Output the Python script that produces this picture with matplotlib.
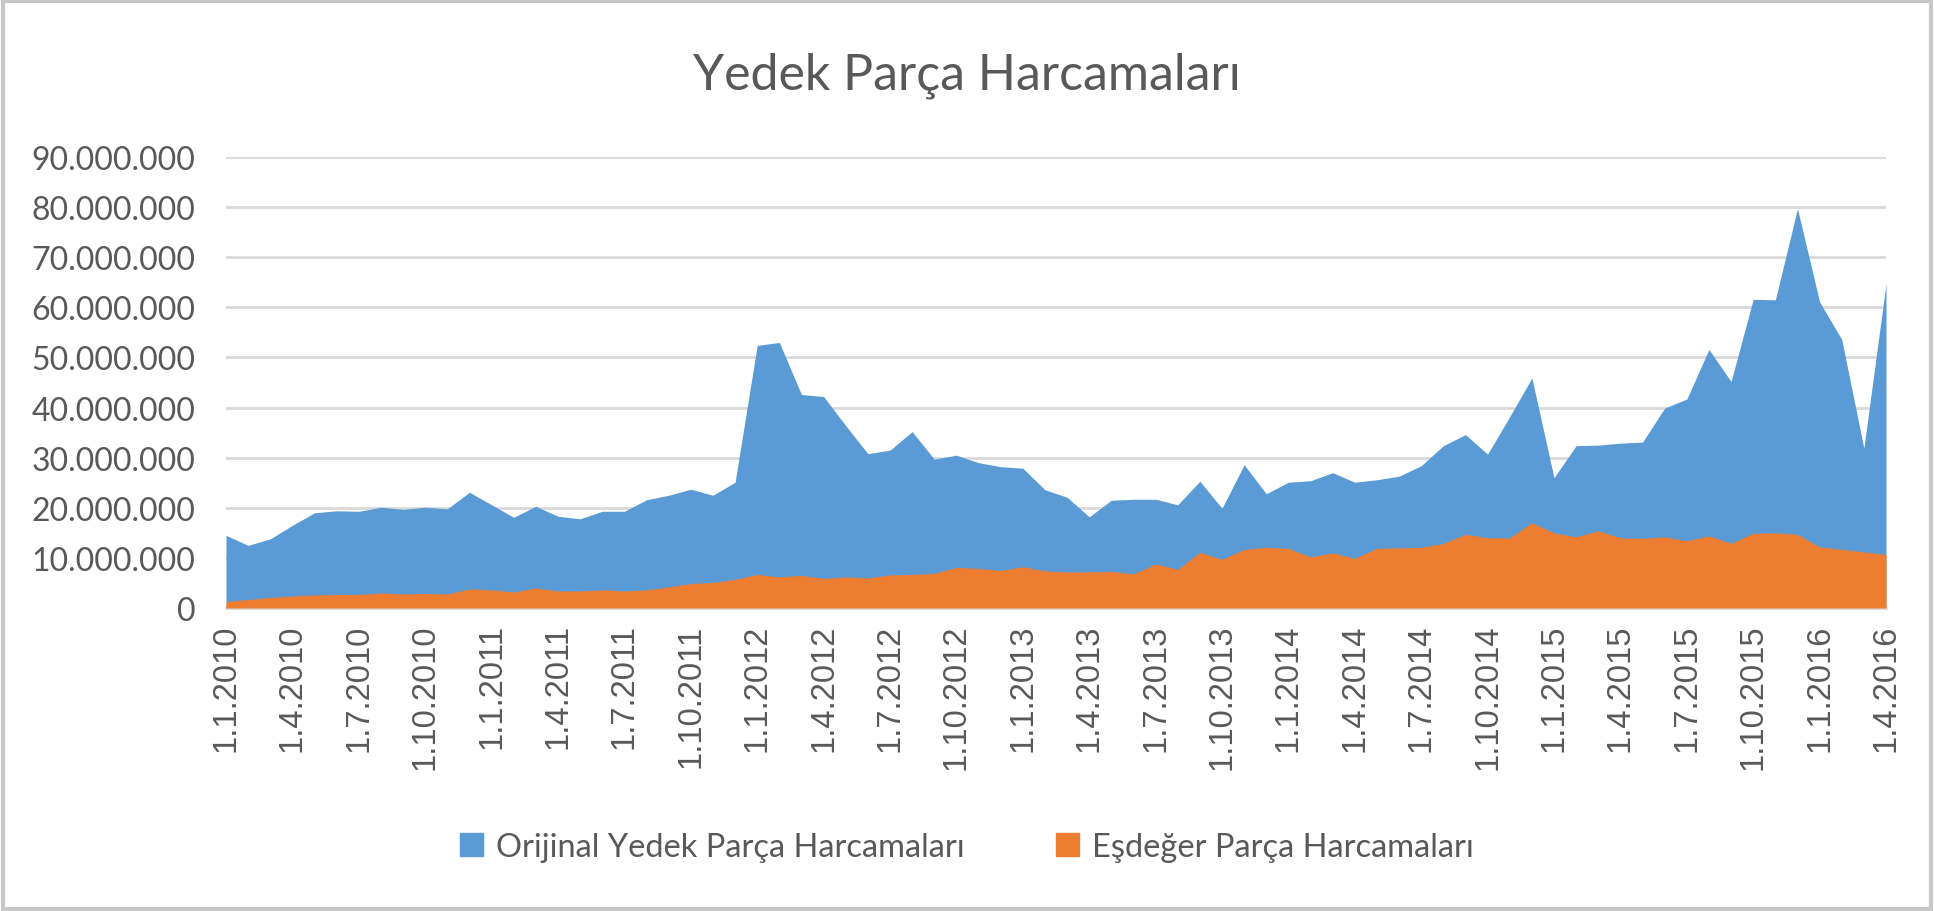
# ─────────────────────────────────────────
# IMPORTS
# ─────────────────────────────────────────
import matplotlib
matplotlib.use("Agg")
import matplotlib.pyplot as plt
from matplotlib.patches import Patch, Rectangle
import numpy as np

# ─────────────────────────────────────────
# DATA (monthly, 1.1.2010 - 1.4.2016, million TL)
# ─────────────────────────────────────────
title = "Yedek Parça Harcamaları"
series_names = ["Orijinal Yedek Parça Harcamaları", "Eşdeğer Parça Harcamaları"]

orijinal = [
    14.5, 12.5, 13.8, 16.5, 19.0, 19.4, 19.3, 20.1, 19.7, 20.1, 19.8, 23.1,
    20.6, 18.1, 20.3, 18.3, 17.8, 19.3, 19.3, 21.6, 22.5, 23.7, 22.5, 25.1,
    52.4, 53.0, 42.6, 42.2, 36.4, 30.8, 31.5, 35.2, 29.7, 30.5, 29.0, 28.2,
    27.9, 23.6, 22.1, 18.2, 21.5, 21.7, 21.7, 20.6, 25.3, 19.9, 28.6, 22.8,
    25.1, 25.4, 27.0, 25.1, 25.6, 26.3, 28.4, 32.4, 34.6, 30.7, 38.2, 45.9,
    26.0, 32.4, 32.5, 32.9, 33.1, 39.9, 41.7, 51.6, 45.2, 61.6, 61.5, 79.7,
    61.1, 53.6, 31.9, 64.7,
]
esdeger = [
    1.3, 1.7, 2.1, 2.4, 2.6, 2.7, 2.7, 3.0, 2.8, 2.9, 2.8, 3.8,
    3.6, 3.2, 4.0, 3.4, 3.4, 3.6, 3.4, 3.6, 4.2, 4.9, 5.1, 5.7,
    6.7, 6.2, 6.5, 5.9, 6.2, 6.0, 6.6, 6.7, 6.9, 8.1, 7.9, 7.5,
    8.2, 7.4, 7.2, 7.2, 7.3, 6.8, 8.8, 7.7, 11.1, 9.7, 11.7, 12.1,
    11.9, 10.2, 11.0, 9.9, 11.9, 12.0, 12.1, 12.9, 14.7, 14.0, 14.0, 17.0,
    15.0, 14.2, 15.4, 14.0, 13.9, 14.2, 13.4, 14.4, 12.9, 14.9, 15.0, 14.7,
    12.2, 11.7, 11.2, 10.7,
]
start_year = 2010
y_ticks = [0, 10, 20, 30, 40, 50, 60, 70, 80, 90]

# ─────────────────────────────────────────
# HELPERS
# ─────────────────────────────────────────
def month_label(i):
    year = start_year + i // 12
    month = i % 12 + 1
    return f"1.{month}.{year}"


def tr_number(v):
    # 10 -> "10.000.000" (Turkish thousands separator)
    return f"{int(round(v * 1e6)):,}".replace(",", ".")


# ─────────────────────────────────────────
# PLOT
# ─────────────────────────────────────────
BLUE = "#5B9BD5"
ORANGE = "#ED7D31"
TEXT = "#595959"
GRID = "#D9D9D9"

fig = plt.figure(figsize=(19.34, 9.12), dpi=100)
ax = fig.add_axes([226 / 1934, 1 - 609 / 912, (1886 - 226) / 1934, (609 - 158) / 912])

x = np.arange(len(orijinal))
ax.fill_between(x, 0, orijinal, color=BLUE, linewidth=0, zorder=2)
ax.fill_between(x, 0, esdeger, color=ORANGE, linewidth=0, zorder=3)

ax.set_xlim(0, len(x) - 1)
ax.set_ylim(0, 90)

ax.set_yticks(y_ticks)
ax.set_yticklabels([tr_number(v) for v in y_ticks], family="Lato", fontsize=23, color=TEXT)
ax.yaxis.grid(True, color=GRID, linewidth=2, zorder=0)
ax.set_axisbelow(True)

tick_pos = x[::3]
ax.set_xticks(tick_pos)
ax.set_xticklabels([month_label(i) for i in tick_pos], rotation=90,
                   family="Liberation Sans", fontsize=23.5, color=TEXT)

ax.tick_params(axis="y", length=0, pad=22)
ax.tick_params(axis="x", length=0, pad=11)
for side in ["top", "right", "left"]:
    ax.spines[side].set_visible(False)
ax.spines["bottom"].set_color(GRID)
ax.spines["bottom"].set_linewidth(2)

fig.text(0.5, 1 - 76 / 912, title, ha="center", va="center",
         family="Lato", fontsize=36, color=TEXT)

handles = [Patch(color=BLUE), Patch(color=ORANGE)]
fig.legend(handles, series_names, loc="center", bbox_to_anchor=(0.5, 1 - 848 / 912),
           ncol=2, frameon=False, prop={"family": "Lato", "size": 23.5},
           labelcolor=TEXT, handlelength=0.7, handleheight=0.7,
           handletextpad=0.4, columnspacing=2.8)

# outer chart frame
fig.patches.append(Rectangle((0.0015, 0.002), 0.997, 0.996, transform=fig.transFigure,
                             fill=False, edgecolor="#C8C8C8", linewidth=3))

plt.savefig("out.png", dpi=100)
